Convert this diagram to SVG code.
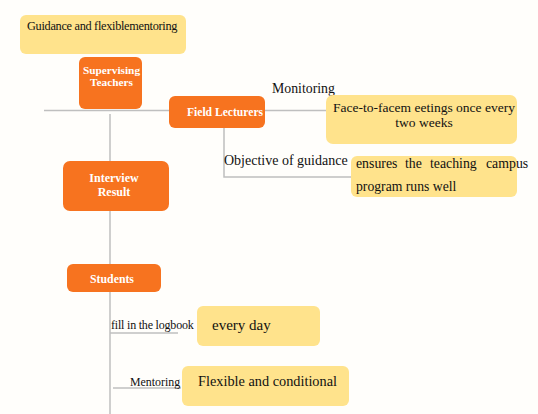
<svg xmlns="http://www.w3.org/2000/svg" width="538" height="414" viewBox="0 0 538 414">
<style>
.bg{fill:#FFFEFB}
.or{fill:#F7731F}
.ye{fill:#FFE38C}
.ln{stroke:#BFBFBF;stroke-width:1.5;fill:none}
.wt{font-family:'Liberation Serif','DejaVu Serif',serif;fill:#FFFFFF;font-weight:bold;text-anchor:middle}
.bk{font-family:'Liberation Serif','DejaVu Serif',serif;fill:#111111}
</style>
<rect class="bg" x="0" y="0" width="538" height="414"/>
<g id="connectors">
<line class="ln" x1="44" y1="110.5" x2="170" y2="110.5"/>
<line class="ln" x1="264" y1="110.5" x2="328" y2="110.5"/>
<line class="ln" x1="110" y1="114" x2="110" y2="414"/>
<polyline class="ln" points="224,128 224,177 351,177"/>
<line class="ln" x1="110" y1="333" x2="178" y2="333"/>
<line class="ln" x1="113" y1="388" x2="181" y2="388"/>
</g>
<g id="guidance">
<rect class="ye" x="20" y="15" width="166" height="39" rx="6"/>
<text class="bk" x="27" y="30" font-size="12.3" letter-spacing="-0.3">Guidance and flexiblementoring</text>
</g>
<g id="supervising">
<rect class="or" x="79" y="57" width="63" height="52" rx="6"/>
<text class="wt" x="111.5" y="74" font-size="11.3">Supervising</text>
<text class="wt" x="111.5" y="86" font-size="11.3">Teachers</text>
</g>
<g id="field">
<rect class="or" x="169" y="96" width="96" height="32" rx="6"/>
<text class="wt" x="225" y="116" font-size="11.6">Field Lecturers</text>
</g>
<g id="monitoring">
<text class="bk" x="272" y="93" font-size="13.8">Monitoring</text>
</g>
<g id="face">
<rect class="ye" x="326" y="95" width="191" height="49" rx="7"/>
<text class="bk" x="424" y="112" font-size="13.5" text-anchor="middle">Face-to-facem eetings once every</text>
<text class="bk" x="424" y="127" font-size="13.5" text-anchor="middle">two weeks</text>
</g>
<g id="objective">
<text class="bk" x="224" y="165" font-size="14">Objective of guidance</text>
</g>
<g id="ensures">
<rect class="ye" x="351" y="156" width="166" height="41" rx="6"/>
<text class="bk" y="168" font-size="13.8"><tspan x="356">ensures</tspan><tspan x="405">the</tspan><tspan x="430">teaching</tspan><tspan x="486">campus</tspan></text>
<text class="bk" x="356" y="191" font-size="13.7">program runs well</text>
</g>
<g id="interview">
<rect class="or" x="63" y="161" width="106" height="50" rx="7"/>
<text class="wt" x="114" y="182" font-size="12">Interview</text>
<text class="wt" x="114" y="196" font-size="12">Result</text>
</g>
<g id="students">
<rect class="or" x="67" y="264" width="94" height="28" rx="6"/>
<text class="wt" x="112" y="283" font-size="11.8">Students</text>
</g>
<g id="logbook">
<text class="bk" x="111" y="329" font-size="12" letter-spacing="-0.2">fill in the logbook</text>
<rect class="ye" x="197" y="306" width="123" height="40" rx="6"/>
<text class="bk" x="212" y="330" font-size="15">every day</text>
</g>
<g id="mentoring">
<text class="bk" x="130" y="386" font-size="11.9">Mentoring</text>
<rect class="ye" x="182" y="366" width="167" height="40" rx="6"/>
<text class="bk" x="198" y="386" font-size="14.3">Flexible and conditional</text>
</g>
</svg>
